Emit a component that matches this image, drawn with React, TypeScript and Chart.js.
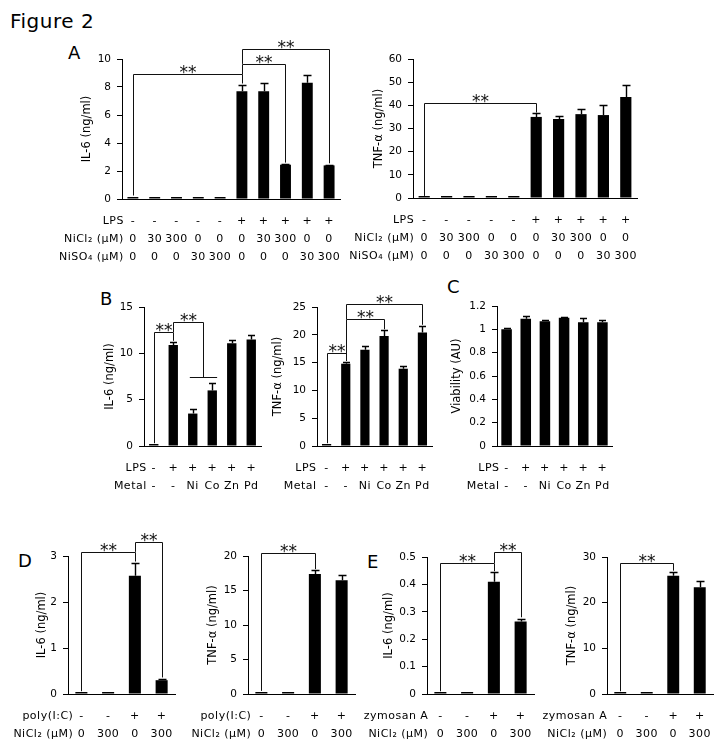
import React, { useEffect, useRef } from "react";
import { Chart, registerables } from "chart.js";
Chart.register(...registerables);

const FONT = "DejaVu Sans";

// ---------- Panel A ----------
const A_LPS = ["-", "-", "-", "-", "-", "+", "+", "+", "+", "+"];
const A_NICL2 = ["0", "30", "300", "0", "0", "0", "30", "300", "0", "0"];
const A_NISO4 = ["0", "0", "0", "30", "300", "0", "0", "0", "30", "300"];
const A_IL6 = [0.1, 0.1, 0.1, 0.1, 0.1, 7.7, 7.7, 2.45, 8.3, 2.4];
const A_IL6_ERR = [0, 0, 0, 0, 0, 0.45, 0.6, 0.08, 0.55, 0.06];
const A_TNF = [0.5, 0.5, 0.5, 0.5, 0.5, 35.0, 34.1, 36.2, 35.8, 43.6];
const A_TNF_ERR = [0, 0, 0, 0, 0, 1.6, 1.2, 2.2, 4.3, 5.2];
// [fromIndex, toIndex, bracketLevel, leftEndLevel, rightEndLevel]
const A_IL6_SIG = [
  [0, 5, 8.9, 0.25, 8.25],
  [5, 7, 9.65, 8.9, 2.6],
  [5, 9, 10.75, 9.65, 2.55],
];
const A_TNF_SIG = [[0, 5, 41, 0.9, 36.9]];

// ---------- Panel B / C ----------
const B_LPS = ["-", "+", "+", "+", "+", "+"];
const B_METAL = ["-", "-", "Ni", "Co", "Zn", "Pd"];
const B_IL6 = [0.1, 10.9, 3.5, 6.0, 11.1, 11.5];
const B_IL6_ERR = [0, 0.35, 0.45, 0.85, 0.35, 0.45];
const B_IL6_SIG = [
  [0, 1, 12.3, 0.3, 11.35],
  [1, 2.5, 13.4, 12.3, 7.4],
];
// [level, fromIndex, toIndex]
const B_IL6_HLINES = [[7.4, 1.85, 3.25]];
const B_TNF = [0.2, 14.8, 17.3, 19.8, 13.9, 20.4];
const B_TNF_ERR = [0, 0.3, 0.6, 1.0, 0.4, 1.2];
const B_TNF_SIG = [
  [0, 1, 16.8, 0.5, 15.3],
  [1, 3, 22.8, 15.3, 21.0],
  [1, 5, 25.5, 22.8, 21.8],
];
const C_VIAB = [1.0, 1.09, 1.07, 1.1, 1.06, 1.06];
const C_VIAB_ERR = [0.01, 0.025, 0.01, 0.005, 0.035, 0.02];

// ---------- Panel D / E ----------
const D_POLY = ["-", "-", "+", "+"];
const DE_NICL2 = ["0", "300", "0", "300"];
const D_IL6 = [0.03, 0.03, 2.57, 0.3];
const D_IL6_ERR = [0, 0, 0.27, 0.02];
const D_IL6_SIG = [
  [0, 2, 3.09, 0.06, 2.88],
  [2, 3, 3.3, 3.09, 0.36],
];
const D_TNF = [0.2, 0.2, 17.4, 16.5];
const D_TNF_ERR = [0, 0, 0.6, 0.7];
const D_TNF_SIG = [[0, 2, 20.4, 0.45, 18.1]];
const E_ZYM = ["-", "-", "+", "+"];
const E_IL6 = [0.003, 0.003, 0.41, 0.265];
const E_IL6_ERR = [0, 0, 0.035, 0.01];
const E_IL6_SIG = [
  [0, 2, 0.478, 0.01, 0.448],
  [2, 3, 0.52, 0.478, 0.28],
];
const E_TNF = [0.3, 0.3, 25.9, 23.4];
const E_TNF_ERR = [0, 0, 0.9, 1.3];
const E_TNF_SIG = [[0, 2, 28.7, 0.6, 27.0]];

type Row = { title: string; vals: string[] };
type PanelCfg = {
  cx: number; cy: number; cw: number; ch: number;
  axL: number; axR: number; axT: number; axB: number;
  values: number[]; errs: number[];
  yMax: number; yStep: number; yTitle: string; titleOff: number;
  rows: Row[]; rowGap: number;
  sig: number[][]; hlines: number[][];
  barPct: number; capW: number;
};

const PANELS: PanelCfg[] = [
  {
    cx: 40, cy: 30, cw: 310, ch: 240, axL: 122, axR: 340, axT: 59, axB: 199,
    values: A_IL6, errs: A_IL6_ERR, yMax: 10, yStep: 2, yTitle: "IL-6 (ng/ml)", titleOff: 35,
    rows: [{ title: "LPS", vals: A_LPS }, { title: "NiCl₂ (μM)", vals: A_NICL2 }, { title: "NiSO₄ (μM)", vals: A_NISO4 }],
    rowGap: 9, sig: A_IL6_SIG, hlines: [], barPct: 0.5, capW: 4,
  },
  {
    cx: 340, cy: 30, cw: 310, ch: 240, axL: 413, axR: 637, axT: 59, axB: 198,
    values: A_TNF, errs: A_TNF_ERR, yMax: 60, yStep: 10, yTitle: "TNF-α (ng/ml)", titleOff: 34,
    rows: [{ title: "LPS", vals: A_LPS }, { title: "NiCl₂ (μM)", vals: A_NICL2 }, { title: "NiSO₄ (μM)", vals: A_NISO4 }],
    rowGap: 10, sig: A_TNF_SIG, hlines: [], barPct: 0.5, capW: 4,
  },
  {
    cx: 60, cy: 280, cw: 210, ch: 215, axL: 144, axR: 261, axT: 307, axB: 446,
    values: B_IL6, errs: B_IL6_ERR, yMax: 15, yStep: 5, yTitle: "IL-6 (ng/ml)", titleOff: 34,
    rows: [{ title: "LPS", vals: B_LPS }, { title: "Metal", vals: B_METAL }],
    rowGap: 7, sig: B_IL6_SIG, hlines: B_IL6_HLINES, barPct: 0.48, capW: 3.5,
  },
  {
    cx: 260, cy: 280, cw: 180, ch: 215, axL: 317, axR: 432, axT: 307, axB: 446,
    values: B_TNF, errs: B_TNF_ERR, yMax: 25, yStep: 5, yTitle: "TNF-α (ng/ml)", titleOff: 39,
    rows: [{ title: "LPS", vals: B_LPS }, { title: "Metal", vals: B_METAL }],
    rowGap: 10, sig: B_TNF_SIG, hlines: [], barPct: 0.48, capW: 3.5,
  },
  {
    cx: 430, cy: 280, cw: 200, ch: 215, axL: 497, axR: 612, axT: 306, axB: 446,
    values: C_VIAB, errs: C_VIAB_ERR, yMax: 1.2, yStep: 0.2, yTitle: "Viability (AU)", titleOff: 40,
    rows: [{ title: "LPS", vals: B_LPS }, { title: "Metal", vals: B_METAL }],
    rowGap: 7, sig: [], hlines: [], barPct: 0.55, capW: 3.5,
  },
  {
    cx: 0, cy: 510, cw: 185, ch: 240, axL: 68, axR: 175, axT: 556, axB: 694,
    values: D_IL6, errs: D_IL6_ERR, yMax: 3, yStep: 1, yTitle: "IL-6 (ng/ml)", titleOff: 26,
    rows: [{ title: "poly(I:C)", vals: D_POLY }, { title: "NiCl₂ (μM)", vals: DE_NICL2 }],
    rowGap: 8, sig: D_IL6_SIG, hlines: [], barPct: 0.45, capW: 4,
  },
  {
    cx: 180, cy: 510, cw: 185, ch: 240, axL: 248, axR: 355, axT: 556, axB: 694,
    values: D_TNF, errs: D_TNF_ERR, yMax: 20, yStep: 5, yTitle: "TNF-α (ng/ml)", titleOff: 35,
    rows: [{ title: "poly(I:C)", vals: D_POLY }, { title: "NiCl₂ (μM)", vals: DE_NICL2 }],
    rowGap: 10, sig: D_TNF_SIG, hlines: [], barPct: 0.45, capW: 4,
  },
  {
    cx: 362, cy: 510, cw: 180, ch: 240, axL: 427, axR: 534, axT: 557, axB: 694,
    values: E_IL6, errs: E_IL6_ERR, yMax: 0.5, yStep: 0.1, yTitle: "IL-6 (ng/ml)", titleOff: 38,
    rows: [{ title: "zymosan A", vals: E_ZYM }, { title: "NiCl₂ (μM)", vals: DE_NICL2 }],
    rowGap: 12, sig: E_IL6_SIG, hlines: [], barPct: 0.45, capW: 4,
  },
  {
    cx: 540, cy: 510, cw: 185, ch: 240, axL: 607, axR: 713, axT: 557, axB: 694,
    values: E_TNF, errs: E_TNF_ERR, yMax: 30, yStep: 10, yTitle: "TNF-α (ng/ml)", titleOff: 35,
    rows: [{ title: "zymosan A", vals: E_ZYM }, { title: "NiCl₂ (μM)", vals: DE_NICL2 }],
    rowGap: 13, sig: E_TNF_SIG, hlines: [], barPct: 0.45, capW: 4,
  },
];

function overlayPlugin(p: PanelCfg) {
  return {
    id: "overlay",
    afterDraw(chart: any) {
      const ctx: CanvasRenderingContext2D = chart.ctx;
      const xs = chart.scales.x;
      const ys = chart.scales.y;
      const area = chart.chartArea;
      const p0 = xs.getPixelForValue(0);
      const p1 = xs.getPixelForValue(1);
      const px = (v: number) => p0 + v * (p1 - p0);
      const py = (v: number) => ys.getPixelForValue(v);
      ctx.save();
      // error bars (upper only)
      ctx.strokeStyle = "#000";
      ctx.lineWidth = 1.4;
      p.values.forEach((v, i) => {
        const e = p.errs[i];
        if (!e) return;
        const x = Math.round(px(i)) + 0.5;
        const y0 = py(v);
        const y1 = Math.round(py(v + e)) + 0.5;
        ctx.beginPath();
        ctx.moveTo(x, y0);
        ctx.lineTo(x, y1);
        ctx.moveTo(x - p.capW, y1);
        ctx.lineTo(x + p.capW, y1);
        ctx.stroke();
      });
      // significance brackets
      ctx.lineWidth = 1;
      ctx.strokeStyle = "#111";
      ctx.fillStyle = "#111";
      p.sig.forEach(([a, b, lv, le, re]) => {
        const xa = Math.round(px(a)) + 0.5;
        const xb = Math.round(px(b)) + 0.5;
        const yl = Math.round(py(lv)) + 0.5;
        ctx.beginPath();
        ctx.moveTo(xa, py(le));
        ctx.lineTo(xa, yl);
        ctx.lineTo(xb, yl);
        ctx.lineTo(xb, py(re));
        ctx.stroke();
        ctx.font = `17px "${FONT}"`;
        ctx.textAlign = "center";
        ctx.textBaseline = "alphabetic";
        ctx.fillText("**", (xa + xb) / 2, yl + 3);
      });
      p.hlines.forEach(([lv, a, b]) => {
        const yl = Math.round(py(lv)) + 0.5;
        ctx.beginPath();
        ctx.moveTo(px(a), yl);
        ctx.lineTo(px(b), yl);
        ctx.stroke();
      });
      // condition rows
      ctx.fillStyle = "#000";
      ctx.font = `11px "${FONT}"`;
      ctx.textBaseline = "middle";
      (ctx as any).letterSpacing = "0.5px";
      p.rows.forEach((r, k) => {
        const y = area.bottom + 22 + 18 * k;
        ctx.textAlign = "right";
        ctx.fillText(r.title, px(0) - p.rowGap, y);
        ctx.textAlign = "center";
        r.vals.forEach((s, i) => ctx.fillText(s, px(i), y));
      });
      (ctx as any).letterSpacing = "0px";
      // y title
      ctx.translate(area.left - p.titleOff, (area.top + area.bottom) / 2);
      ctx.rotate(-Math.PI / 2);
      ctx.font = `11.5px "${FONT}"`;
      ctx.textAlign = "center";
      ctx.textBaseline = "middle";
      ctx.fillText(p.yTitle, 0, 0);
      ctx.restore();
    },
  };
}

function Panel({ p }: { p: PanelCfg }) {
  const ref = useRef<HTMLCanvasElement>(null);
  useEffect(() => {
    const chart = new Chart(ref.current as HTMLCanvasElement, {
      type: "bar",
      data: {
        labels: p.values.map((_, i) => String(i)),
        datasets: [
          {
            data: p.values,
            backgroundColor: "#000",
            borderWidth: 0,
            barPercentage: p.barPct,
            categoryPercentage: 1,
            minBarLength: 2,
          },
        ],
      },
      options: {
        responsive: false,
        animation: false,
        devicePixelRatio: 1,
        events: [],
        layout: {
          autoPadding: false,
          padding: { left: 0, top: p.axT - p.cy, right: p.cx + p.cw - p.axR, bottom: 0 },
        },
        plugins: { legend: { display: false }, tooltip: { enabled: false }, title: { display: false } },
        scales: {
          x: {
            type: "category",
            offset: true,
            grid: { display: false, drawTicks: false },
            border: { display: true, color: "#000", width: 1 },
            ticks: { display: false },
            afterFit: (s: any) => {
              s.height = p.cy + p.ch - p.axB;
            },
          },
          y: {
            min: 0,
            max: p.yMax,
            ticks: {
              stepSize: p.yStep,
              color: "#000",
              font: { family: FONT, size: 10.5 },
              padding: 6,
              callback: (v: any) => String(Math.round(Number(v) * 1000) / 1000),
            },
            grid: { drawOnChartArea: false, drawTicks: true, tickLength: 5, color: "#000" },
            border: { display: true, color: "#000", width: 1 },
            afterFit: (s: any) => {
              s.width = p.axL - p.cx;
            },
          },
        },
      } as any,
      plugins: [overlayPlugin(p)],
    });
    return () => chart.destroy();
  }, [p]);
  return (
    <canvas
      ref={ref}
      width={p.cw}
      height={p.ch}
      style={{ position: "absolute", left: p.cx, top: p.cy, width: p.cw, height: p.ch }}
    />
  );
}

const LETTERS = [
  { t: "A", x: 68, y: 44 },
  { t: "B", x: 100, y: 290 },
  { t: "C", x: 447, y: 278 },
  { t: "D", x: 18, y: 552 },
  { t: "E", x: 367, y: 553 },
];

export default function App() {
  return (
    <div
      style={{
        position: "absolute",
        left: 0,
        top: 0,
        width: 728,
        height: 751,
        overflow: "hidden",
        background: "#fff",
        fontFamily: FONT,
        color: "#000",
      }}
    >
      <div style={{ position: "absolute", left: 10, top: 11, fontSize: 20, lineHeight: "20px", letterSpacing: 0.5 }}>
        Figure 2
      </div>
      {LETTERS.map((l) => (
        <div key={l.t} style={{ position: "absolute", left: l.x, top: l.y, fontSize: 18, lineHeight: "18px" }}>
          {l.t}
        </div>
      ))}
      {PANELS.map((p, i) => (
        <Panel key={i} p={p} />
      ))}
    </div>
  );
}
